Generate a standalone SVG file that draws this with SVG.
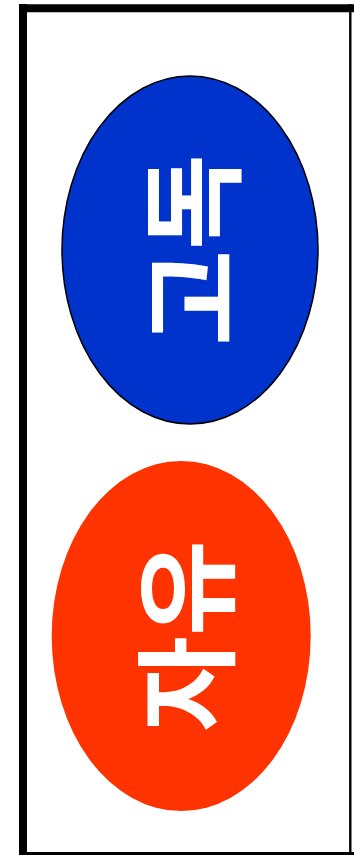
<svg xmlns="http://www.w3.org/2000/svg" width="354" height="855" viewBox="0 0 354 855">
<style>
.label{font-family:"Noto Sans CJK KR","Noto Sans",sans-serif;font-weight:700;font-size:104px;fill:#ffffff;text-anchor:middle;dominant-baseline:central}
.frame{stroke:#000000;fill:none}
</style>
<rect width="354" height="855" fill="#ffffff"/>
<g id="frame">
<line class="frame" x1="23" y1="4" x2="23" y2="855" stroke-width="8"/>
<line class="frame" x1="19" y1="8.3" x2="354" y2="8.3" stroke-width="8"/>
<line class="frame" x1="350.3" y1="4" x2="350.3" y2="855" stroke-width="2.4"/>
<line class="frame" x1="19" y1="853.5" x2="354" y2="853.5" stroke-width="3.2"/>
</g>
<g id="node-godok">
<ellipse cx="190" cy="250" rx="128" ry="174" fill="#0033cc" stroke="#000000" stroke-width="1.5"/>
<text class="label" transform="translate(186 250) rotate(-90)" x="0" y="0">고독</text>
</g>
<g id="node-jayu">
<ellipse cx="181.2" cy="636" rx="129.5" ry="175" fill="#ff3300"/>
<text class="label" transform="translate(180 636) rotate(-90)" x="0" y="0">자유</text>
</g>
</svg>
